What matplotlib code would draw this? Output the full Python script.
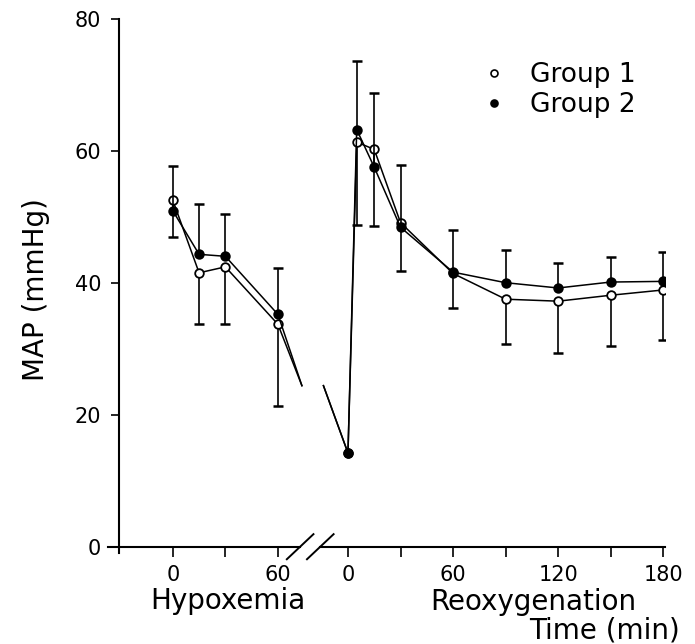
import numpy as np
import matplotlib
matplotlib.use("Agg")
import matplotlib.pyplot as plt
from matplotlib.lines import Line2D

# ---------------- data ----------------
hyp_time = [0, 15, 30, 60]
reox_time = [0, 5, 15, 30, 60, 90, 120, 150, 180]

g1_hyp = [52.5, 41.5, 42.4, 33.7]
g1_hyp_sd = [5.6, 7.7, 8.7, 12.4]
g2_hyp = [50.9, 44.3, 44.0, 35.2]
g2_hyp_sd = [6.8, 7.7, 6.4, 7.1]

g1_reox = [14.2, 61.3, 60.2, 49.1, 41.4, 37.5, 37.2, 38.1, 38.9]
g1_reox_sd = [np.nan, 12.6, 11.6, 7.3, 5.3, 6.8, 7.9, 7.7, 7.6]
g2_reox = [14.2, 63.2, 57.5, 48.4, 41.6, 40.0, 39.2, 40.1, 40.2]
g2_reox_sd = [np.nan, 10.4, 11.3, 9.4, 6.4, 5.0, 3.8, 3.8, 4.4]

break_level = 24.4  # value where the lines cross the axis break

hyp_ticks = [0, 30, 60]
hyp_ticklabels = ["0", "", "60"]
reox_ticks = [0, 30, 60, 90, 120, 150, 180]
reox_ticklabels = ["0", "", "60", "", "120", "", "180"]
y_ticks = [0, 20, 40, 60, 80]

# ---------------- layout ----------------
W, H, DPI = 695, 644, 100
REOX_OFFSET = 100.0
BREAK1, BREAK2 = 72.7, 84.2       # centres of the two break slashes (x data)
LINE_BREAK1, LINE_BREAK2 = 73.7, 86.0
X_LEFT, X_RIGHT = -37.0, 281.0
Y_SPINE_X = -30.5

plt.rcParams["font.family"] = ["DejaVu Sans"]

fig = plt.figure(figsize=(W / DPI, H / DPI), dpi=DPI)
ax_left = 108 / W
ax_right = 665 / W
ax_bottom = (H - 546.7) / H
ax_top = (H - 18.7) / H
ax = fig.add_axes([ax_left, ax_bottom, ax_right - ax_left, ax_top - ax_bottom])
ax.set_xlim(X_LEFT, X_RIGHT)
ax.set_ylim(0, 80)

hx = np.array(hyp_time, dtype=float)
rx = np.array(reox_time, dtype=float) + REOX_OFFSET

LW = 1.1
MS = 6.2

def draw_group(yh, sdh, yr, sdr, direction, face, z):
    yh = np.array(yh, float); sdh = np.array(sdh, float)
    yr = np.array(yr, float); sdr = np.array(sdr, float)
    # lines (with break)
    ax.plot(np.r_[hx, LINE_BREAK1], np.r_[yh, break_level], color="black", lw=LW, zorder=z)
    ax.plot(np.r_[LINE_BREAK2, rx], np.r_[break_level, yr], color="black", lw=LW, zorder=z)
    # one-sided error bars
    for xs, ys, sds in ((hx, yh, sdh), (rx, yr, sdr)):
        ends = ys + direction * sds
        ax.vlines(xs, ys, ends, color="black", lw=1.2, zorder=z - 0.5)
        ax.plot(xs, ends, ls="none", marker="_", ms=7.5, mew=1.8, color="black", zorder=z - 0.5)
    # markers
    for xs, ys in ((hx, yh), (rx, yr)):
        ax.plot(xs, ys, ls="none", marker="o", ms=MS, mfc=face, mec="black", mew=1.3, zorder=z + 1)

draw_group(g1_hyp, g1_hyp_sd, g1_reox, g1_reox_sd, -1, "white", 3)
draw_group(g2_hyp, g2_hyp_sd, g2_reox, g2_reox_sd, +1, "black", 5)

# ---------------- axes styling ----------------
for s in ("top", "right", "bottom"):
    ax.spines[s].set_visible(False)
ax.spines["left"].set_position(("data", Y_SPINE_X))
ax.spines["left"].set_linewidth(1.5)
ax.spines["left"].set_bounds(-0.9, 80)

# x-axis line with a break
ax.plot([X_LEFT, BREAK1], [0, 0], color="black", lw=1.5, clip_on=False, zorder=2)
ax.plot([BREAK2, X_RIGHT], [0, 0], color="black", lw=1.5, clip_on=False, zorder=2)
for c in (BREAK1, BREAK2):
    ax.plot([c - 7.6, c + 7.6], [-1.9, 1.9], color="black", lw=1.4, clip_on=False, zorder=2)

xt = list(hyp_ticks) + [t + REOX_OFFSET for t in reox_ticks]
ax.set_xticks(xt)
ax.set_xticklabels(hyp_ticklabels + reox_ticklabels)
ax.set_yticks(y_ticks)
ax.tick_params(axis="x", direction="out", length=7.5, width=1.2, pad=6, labelsize=15)
ax.tick_params(axis="y", direction="out", length=6, width=1.2, pad=7, labelsize=15)

def ftext(xp, yp, s, **kw):
    fig.text(xp / W, 1 - yp / H, s, fontsize=20, **kw)

ftext(150, 609, "Hypoxemia", ha="left", va="baseline")
ftext(430, 610, "Reoxygenation", ha="left", va="baseline")
ftext(680, 638, "Time (min)", ha="right", va="baseline")
ftext(36, 290, "MAP (mmHg)", ha="center", va="center", rotation=90)

# legend
handles = [
    Line2D([], [], ls="none", marker="o", ms=5, mfc="white", mec="black", mew=1.2),
    Line2D([], [], ls="none", marker="o", ms=5, mfc="black", mec="black", mew=1.2),
]
leg = fig.legend(handles, ["Group 1", "Group 2"], loc="upper left",
                 bbox_to_anchor=(483 / W, 1 - 62 / H), frameon=False,
                 fontsize=19, handlelength=0.8, handletextpad=1.0,
                 labelspacing=0.15, borderpad=0, borderaxespad=0)

fig.savefig("out.png", dpi=DPI)
